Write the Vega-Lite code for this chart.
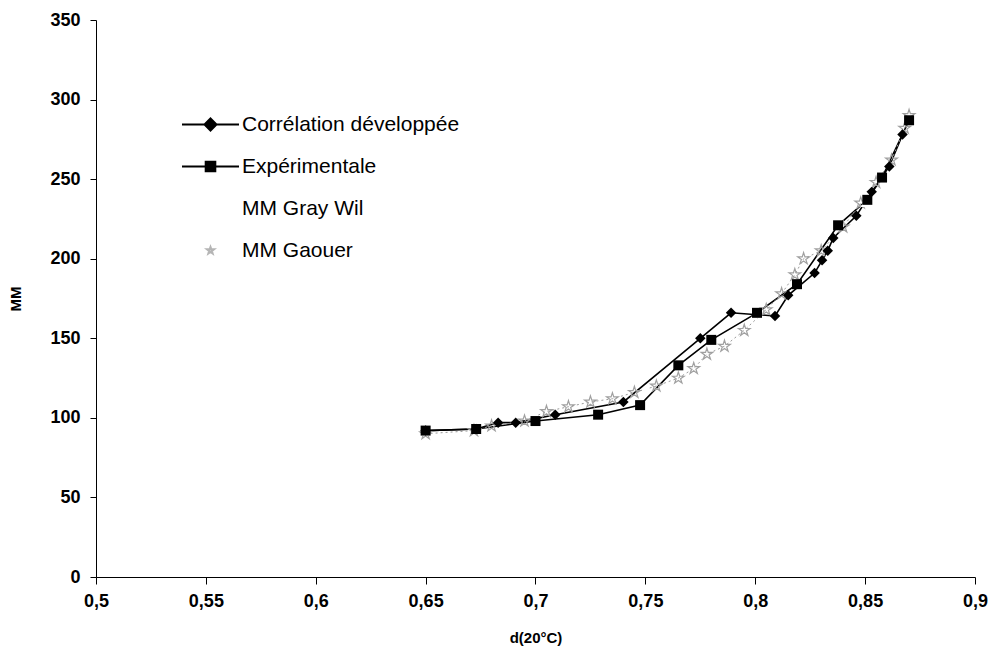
{
  "$schema": "https://vega.github.io/schema/vega-lite/v6.json",
  "autosize": "none",
  "width": 879,
  "height": 557,
  "padding": {"left": 96, "top": 20, "right": 24, "bottom": 81},
  "background": "white",
  "config": {
    "view": {"stroke": null},
    "font": "Liberation Sans",
    "axis": {"grid": false, "domainColor": "black", "tickColor": "black", "labelColor": "black", "titleColor": "black", "labelFont": "Liberation Sans", "titleFont": "Liberation Sans", "labelFontWeight": "bold", "titleFontWeight": "bold", "labelFontSize": 18, "titleFontSize": 15}
  },
  "data": {"values": [
    {"series": "Corrélation développée", "d": 0.65, "MM": 92},
    {"series": "Corrélation développée", "d": 0.673, "MM": 93},
    {"series": "Corrélation développée", "d": 0.683, "MM": 97},
    {"series": "Corrélation développée", "d": 0.691, "MM": 97},
    {"series": "Corrélation développée", "d": 0.709, "MM": 102},
    {"series": "Corrélation développée", "d": 0.74, "MM": 110},
    {"series": "Corrélation développée", "d": 0.775, "MM": 150},
    {"series": "Corrélation développée", "d": 0.789, "MM": 166},
    {"series": "Corrélation développée", "d": 0.809, "MM": 164},
    {"series": "Corrélation développée", "d": 0.815, "MM": 177},
    {"series": "Corrélation développée", "d": 0.827, "MM": 191},
    {"series": "Corrélation développée", "d": 0.8304, "MM": 199},
    {"series": "Corrélation développée", "d": 0.833, "MM": 205},
    {"series": "Corrélation développée", "d": 0.8355, "MM": 213},
    {"series": "Corrélation développée", "d": 0.846, "MM": 227},
    {"series": "Corrélation développée", "d": 0.853, "MM": 242},
    {"series": "Corrélation développée", "d": 0.861, "MM": 258},
    {"series": "Corrélation développée", "d": 0.867, "MM": 278},
    {"series": "Expérimentale", "d": 0.65, "MM": 92},
    {"series": "Expérimentale", "d": 0.673, "MM": 93},
    {"series": "Expérimentale", "d": 0.7, "MM": 98},
    {"series": "Expérimentale", "d": 0.7285, "MM": 102},
    {"series": "Expérimentale", "d": 0.7476, "MM": 108},
    {"series": "Expérimentale", "d": 0.765, "MM": 133},
    {"series": "Expérimentale", "d": 0.78, "MM": 149},
    {"series": "Expérimentale", "d": 0.8008, "MM": 166},
    {"series": "Expérimentale", "d": 0.819, "MM": 184},
    {"series": "Expérimentale", "d": 0.8377, "MM": 221},
    {"series": "Expérimentale", "d": 0.851, "MM": 237},
    {"series": "Expérimentale", "d": 0.8577, "MM": 251},
    {"series": "Expérimentale", "d": 0.87, "MM": 287},
    {"series": "MM Gray Wil", "d": 0.65, "MM": 91},
    {"series": "MM Gray Wil", "d": 0.7, "MM": 100},
    {"series": "MM Gray Wil", "d": 0.75, "MM": 118},
    {"series": "MM Gray Wil", "d": 0.8, "MM": 165},
    {"series": "MM Gray Wil", "d": 0.85, "MM": 235},
    {"series": "MM Gaouer", "d": 0.65, "MM": 90},
    {"series": "MM Gaouer", "d": 0.672, "MM": 92},
    {"series": "MM Gaouer", "d": 0.68, "MM": 95},
    {"series": "MM Gaouer", "d": 0.695, "MM": 98},
    {"series": "MM Gaouer", "d": 0.705, "MM": 104},
    {"series": "MM Gaouer", "d": 0.715, "MM": 107},
    {"series": "MM Gaouer", "d": 0.725, "MM": 110},
    {"series": "MM Gaouer", "d": 0.735, "MM": 112},
    {"series": "MM Gaouer", "d": 0.745, "MM": 116},
    {"series": "MM Gaouer", "d": 0.755, "MM": 120},
    {"series": "MM Gaouer", "d": 0.765, "MM": 125},
    {"series": "MM Gaouer", "d": 0.772, "MM": 131},
    {"series": "MM Gaouer", "d": 0.778, "MM": 140},
    {"series": "MM Gaouer", "d": 0.786, "MM": 145},
    {"series": "MM Gaouer", "d": 0.795, "MM": 155},
    {"series": "MM Gaouer", "d": 0.805, "MM": 168},
    {"series": "MM Gaouer", "d": 0.812, "MM": 178},
    {"series": "MM Gaouer", "d": 0.818, "MM": 190},
    {"series": "MM Gaouer", "d": 0.822, "MM": 200},
    {"series": "MM Gaouer", "d": 0.83, "MM": 205},
    {"series": "MM Gaouer", "d": 0.84, "MM": 220},
    {"series": "MM Gaouer", "d": 0.848, "MM": 235},
    {"series": "MM Gaouer", "d": 0.855, "MM": 248},
    {"series": "MM Gaouer", "d": 0.862, "MM": 262},
    {"series": "MM Gaouer", "d": 0.868, "MM": 282},
    {"series": "MM Gaouer", "d": 0.87, "MM": 290}
  ]},
  "encoding": {
    "x": {"field": "d", "type": "quantitative", "scale": {"domain": [0.5, 0.9], "nice": false, "zero": false},
      "axis": {"title": "d(20°C)", "values": [0.5, 0.55, 0.6, 0.65, 0.7, 0.75, 0.8, 0.85, 0.9], "labelExpr": "replace(format(datum.value, '.2~f'), '.', ',')", "tickSize": 7, "labelPadding": 8, "titlePadding": 20, "labelFlush": false}},
    "y": {"field": "MM", "type": "quantitative", "scale": {"domain": [0, 350], "nice": false},
      "axis": {"title": "MM", "values": [0, 50, 100, 150, 200, 250, 300, 350], "tickSize": 6, "labelPadding": 10, "titlePadding": 26, "labelFlush": false}}
  },
  "layer": [
    {
      "transform": [{"filter": "datum.series === 'Corrélation développée' || datum.series === 'Expérimentale'"}],
      "mark": {"type": "line", "strokeWidth": 1.6, "color": "black"},
      "encoding": {"detail": {"field": "series", "type": "nominal"}}
    },
    {
      "transform": [{"filter": "datum.series === 'MM Gaouer'"}],
      "mark": {"type": "line", "strokeWidth": 1, "strokeDash": [2, 3], "color": "#9a9a9a"},
      "encoding": {}
    },
    {
      "transform": [{"filter": "datum.series === 'MM Gaouer'"}],
      "mark": {"type": "point", "shape": "M0,-1L0.22,-0.3L0.95,-0.3L0.36,0.12L0.59,0.81L0,0.38L-0.59,0.81L-0.36,0.12L-0.95,-0.3L-0.22,-0.3Z", "size": 150, "filled": false, "color": "#a0a0a0", "strokeWidth": 1.2, "opacity": 1},
      "encoding": {}
    },
    {
      "transform": [{"filter": "datum.series === 'MM Gray Wil'"}],
      "mark": {"type": "point", "shape": "triangle-up", "size": 80, "filled": true, "color": "#ffffff", "opacity": 1},
      "encoding": {}
    },
    {
      "transform": [{"filter": "datum.series === 'Corrélation développée'"}],
      "mark": {"type": "point", "shape": "diamond", "size": 110, "filled": true, "color": "black", "opacity": 1},
      "encoding": {}
    },
    {
      "transform": [{"filter": "datum.series === 'Expérimentale'"}],
      "mark": {"type": "point", "shape": "square", "size": 100, "filled": true, "color": "black", "opacity": 1},
      "encoding": {}
    },
    {
      "transform": [{"filter": "false"}],
      "mark": {"type": "point", "filled": true, "opacity": 1, "strokeWidth": 2},
      "encoding": {
        "fill": {"field": "series", "type": "nominal",
          "scale": {"domain": ["Corrélation développée", "Expérimentale", "MM Gray Wil", "MM Gaouer"], "range": ["#000000", "#000000", "#ffffff", "#d8d8d8"]},
          "legend": {"title": null, "orient": "none", "legendX": 82, "legendY": 94, "labelFontSize": 21, "labelFont": "Liberation Sans", "labelFontWeight": "normal", "labelColor": "black", "labelLimit": 0, "rowPadding": 20, "symbolSize": 144, "symbolOffset": 22, "labelOffset": 21, "symbolStrokeWidth": 2}},
        "stroke": {"field": "series", "type": "nominal",
          "scale": {"domain": ["Corrélation développée", "Expérimentale", "MM Gray Wil", "MM Gaouer"], "range": ["#000000", "#000000", "#ffffff", "#b5b5b5"]},
          "legend": {"title": null, "orient": "none", "legendX": 82, "legendY": 94, "labelFontSize": 21, "labelFont": "Liberation Sans", "labelFontWeight": "normal", "labelColor": "black", "labelLimit": 0, "rowPadding": 20, "symbolSize": 144, "symbolOffset": 22, "labelOffset": 21, "symbolStrokeWidth": 2}},
        "shape": {"field": "series", "type": "nominal",
          "scale": {"domain": ["Corrélation développée", "Expérimentale", "MM Gray Wil", "MM Gaouer"], "range": ["M-4.75,0H-1M1,0H4.75M0,-1L1,0L0,1L-1,0Z", "M-4.75,0H-0.8M0.8,0H4.75M-0.8,-0.8H0.8V0.8H-0.8Z", "M0,0", "M0,-0.6L0.15,-0.2L0.6,-0.2L0.24,0.08L0.36,0.5L0,0.24L-0.36,0.5L-0.24,0.08L-0.6,-0.2L-0.15,-0.2Z"]},
          "legend": {"title": null, "orient": "none", "legendX": 82, "legendY": 94, "labelFontSize": 21, "labelFont": "Liberation Sans", "labelFontWeight": "normal", "labelColor": "black", "labelLimit": 0, "rowPadding": 20, "symbolSize": 144, "symbolOffset": 22, "labelOffset": 21, "symbolStrokeWidth": 2}}
      }
    }
  ]
}
